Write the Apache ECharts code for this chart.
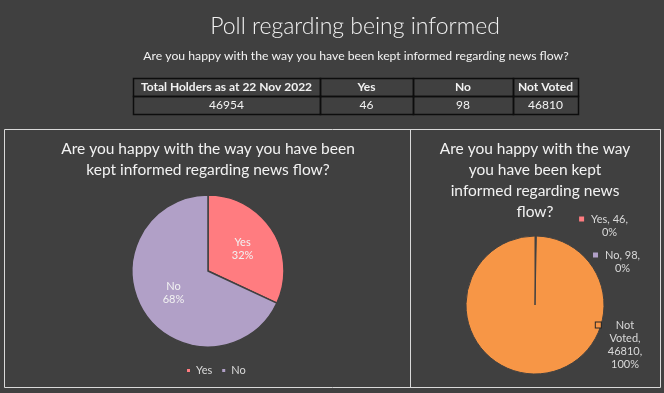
<!DOCTYPE html>
<html><head><meta charset="utf-8">
<script src="https://cdn.jsdelivr.net/npm/echarts@6/dist/echarts.min.js"></script>
<style>html,body{margin:0;padding:0;background:#404040;}#c{width:664px;height:393px;}</style>
</head><body><div id="c"></div>
<script>
// ---- data ----
const mainTitle = 'Poll regarding being informed';
const question = 'Are you happy with the way you have been kept informed regarding news flow?';
const leftTitle = 'Are you happy with the way you have been\nkept informed regarding news flow?';
const rightTitle = 'Are you happy with the way\nyou have been kept\ninformed regarding news\nflow?';
const categories = ['Yes', 'No', 'Not Voted'];
const votes = [46, 98, 46810];
const totalHolders = 46954;
const tableHeaders = ['Total Holders as at 22 Nov 2022', 'Yes', 'No', 'Not Voted'];
const tableValues = [totalHolders, votes[0], votes[1], votes[2]];
const legendItems = ['Yes', 'No'];

// ---- styles / layout ----
const FONT = 'Lato, "Open Sans", sans-serif';
const sliceColors = ['#FF7C80', '#B1A0C7', '#F79646'];
const colEdges = [133, 320, 413, 513, 578];
const rowEdges = [78, 96, 114];
const rightLabelAnchors = [[603.5, 212.5], [616.5, 248.5], [619, 318.5]];

const chart = echarts.init(document.getElementById('c'), null, {renderer: 'canvas'});

// table graphics
const graphics = [];
graphics.push({type: 'rect', shape: {x: 4.5, y: 129.5, width: 656, height: 258}, style: {fill: 'none', stroke: '#d9d9d9', lineWidth: 1}});
graphics.push({type: 'line', shape: {x1: 410.5, y1: 129.5, x2: 410.5, y2: 387.5}, style: {stroke: '#d9d9d9', lineWidth: 1}});
[tableHeaders, tableValues].forEach((row, r) => {
  row.forEach((val, c) => {
    const x0 = colEdges[c], x1 = colEdges[c + 1], y0 = rowEdges[r], y1 = rowEdges[r + 1];
    graphics.push({type: 'rect', shape: {x: x0 + 0.5, y: y0 + 0.5, width: x1 - x0, height: y1 - y0},
      style: {fill: 'none', stroke: '#0d0d0d', lineWidth: 1.5}});
    graphics.push({type: 'text', x: (x0 + x1) / 2, y: (y0 + y1) / 2 + 0.5,
      style: {text: String(val), align: 'center', verticalAlign: 'middle', fill: '#f2f2f2',
        fontSize: 12, fontFamily: FONT, fontWeight: r === 0 ? 'bold' : 'normal'}});
  });
});

function wrapWords(str, maxChars) {
  const words = str.split(' ');
  const lines = [];
  let cur = '';
  words.forEach(w => {
    const test = cur ? cur + ' ' + w : w;
    if (test.length > maxChars && cur) { lines.push(cur); cur = w; }
    else cur = test;
  });
  if (cur) lines.push(cur);
  return lines;
}

const rich = {
  t: {color: '#d9d9d9', fontSize: 11, fontFamily: FONT, lineHeight: 13, align: 'center'},
  s: {width: 7, align: 'left'},
  g: {width: 12, align: 'left'}
};
sliceColors.forEach((col, i) => {
  rich['m' + i] = {width: 5, height: 5, backgroundColor: col, align: 'left',
    borderColor: i === 2 ? '#262626' : 'transparent', borderWidth: i === 2 ? 1 : 0};
});

const option = {
  backgroundColor: '#404040',
  animation: false,
  title: [
    {text: mainTitle, left: 355, top: 13, textAlign: 'center', textVerticalAlign: 'top', padding: 0,
      textStyle: {color: '#f2f2f2', fontSize: 23, fontWeight: 300, fontFamily: FONT, lineHeight: 28}},
    {text: question, left: 356, top: 49, textAlign: 'center', textVerticalAlign: 'top', padding: 0,
      textStyle: {color: '#f2f2f2', fontSize: 12.2, fontWeight: 'normal', fontFamily: FONT, lineHeight: 14}},
    {text: leftTitle, left: 208, top: 138, textAlign: 'center', textVerticalAlign: 'top', padding: 0,
      textStyle: {color: '#f2f2f2', fontSize: 15.5, fontWeight: 'normal', fontFamily: FONT, lineHeight: 21}},
    {text: rightTitle, left: 535, top: 138, textAlign: 'center', textVerticalAlign: 'top', padding: 0,
      textStyle: {color: '#f2f2f2', fontSize: 15.5, fontWeight: 'normal', fontFamily: FONT, lineHeight: 21}}
  ],
  legend: {
    data: legendItems, left: 185, top: 365, icon: 'rect', itemWidth: 5, itemHeight: 5, itemGap: 8,
    selectedMode: false, padding: 0,
    textStyle: {color: '#d9d9d9', fontSize: 11, fontFamily: FONT}
  },
  graphic: graphics,
  series: [
    {
      type: 'pie', center: [208, 271], radius: 76, startAngle: 90, clockwise: true,
      avoidLabelOverlap: false,
      data: legendItems.map((n, i) => ({name: n, value: votes[i], itemStyle: {color: sliceColors[i]}})),
      itemStyle: {borderColor: '#404040', borderWidth: 1.5},
      label: {show: true, position: 'inside', color: '#f2f2f2', fontSize: 11, fontFamily: FONT, lineHeight: 13,
        formatter: p => p.name + '\n' + Math.round(p.percent) + '%'},
      emphasis: {disabled: true}
    },
    {
      type: 'pie', center: [535, 305], radius: 69, startAngle: 90, clockwise: true,
      avoidLabelOverlap: false,
      data: categories.map((n, i) => ({name: n, value: votes[i], itemStyle: {color: sliceColors[i]}})),
      itemStyle: {borderColor: '#404040', borderWidth: 1},
      label: {show: true, position: 'outside', rich: rich,
        formatter: p => {
          const lines = wrapWords(p.name + ', ' + p.value + ', ' + Math.round(p.percent) + '%', 8);
          return lines.map((l, i) => (i === 0 ? '{m' + p.dataIndex + '|}{s|}' : '{g|}') + '{t|' + l + '}').join('\n');
        }},
      labelLine: {show: false},
      labelLayout: p => ({x: rightLabelAnchors[p.dataIndex][0], y: rightLabelAnchors[p.dataIndex][1], align: 'center', verticalAlign: 'top'}),
      emphasis: {disabled: true}
    }
  ]
};
chart.setOption(option);
</script>
</body></html>
